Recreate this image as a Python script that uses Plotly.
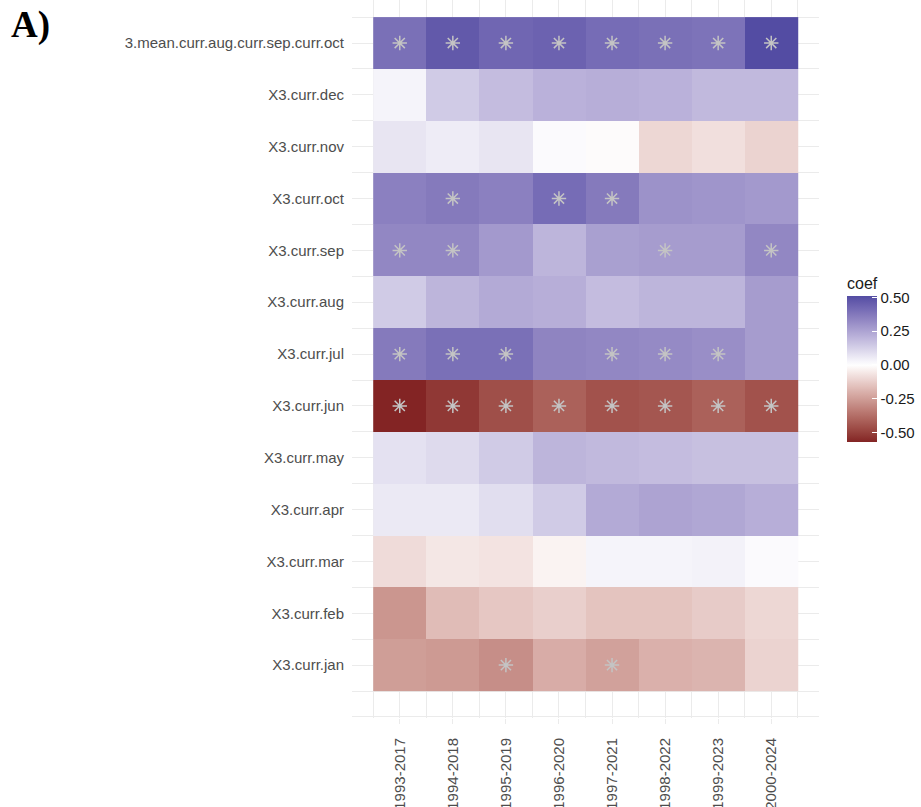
import plotly.graph_objects as go

# periods (x) and predictors (y, bottom to top)
periods = ["1993-2017", "1994-2018", "1995-2019", "1996-2020",
           "1997-2021", "1998-2022", "1999-2023", "2000-2024"]
variables = ["X3.curr.jan", "X3.curr.feb", "X3.curr.mar", "X3.curr.apr",
             "X3.curr.may", "X3.curr.jun", "X3.curr.jul", "X3.curr.aug",
             "X3.curr.sep", "X3.curr.oct", "X3.curr.nov", "X3.curr.dec",
             "X3.mean.curr.aug.curr.sep.curr.oct"]

# correlation coefficients per predictor (one value per period)
coef_jan = [-0.25, -0.26, -0.29, -0.21, -0.24, -0.20, -0.19, -0.11]
coef_feb = [-0.27, -0.17, -0.14, -0.12, -0.15, -0.15, -0.13, -0.10]
coef_mar = [-0.09, -0.06, -0.07, -0.03, 0.03, 0.03, 0.035, 0.01]
coef_apr = [0.06, 0.06, 0.09, 0.14, 0.23, 0.25, 0.24, 0.22]
coef_may = [0.08, 0.10, 0.14, 0.20, 0.19, 0.18, 0.17, 0.17]
coef_jun = [-0.57, -0.52, -0.46, -0.41, -0.45, -0.44, -0.41, -0.45]
coef_jul = [0.37, 0.40, 0.40, 0.34, 0.33, 0.32, 0.31, 0.27]
coef_aug = [0.14, 0.20, 0.23, 0.22, 0.18, 0.20, 0.20, 0.27]
coef_sep = [0.33, 0.33, 0.28, 0.20, 0.26, 0.27, 0.27, 0.33]
coef_oct = [0.35, 0.37, 0.35, 0.41, 0.37, 0.30, 0.29, 0.28]
coef_nov = [0.07, 0.05, 0.07, 0.01, -0.01, -0.10, -0.08, -0.11]
coef_dec = [0.03, 0.14, 0.18, 0.21, 0.22, 0.21, 0.19, 0.19]
coef_mean = [0.40, 0.47, 0.43, 0.44, 0.41, 0.40, 0.39, 0.51]

# significance flags (1 = significant)
sig_jan = [0, 0, 1, 0, 1, 0, 0, 0]
sig_feb = [0, 0, 0, 0, 0, 0, 0, 0]
sig_mar = [0, 0, 0, 0, 0, 0, 0, 0]
sig_apr = [0, 0, 0, 0, 0, 0, 0, 0]
sig_may = [0, 0, 0, 0, 0, 0, 0, 0]
sig_jun = [1, 1, 1, 1, 1, 1, 1, 1]
sig_jul = [1, 1, 1, 0, 1, 1, 1, 0]
sig_aug = [0, 0, 0, 0, 0, 0, 0, 0]
sig_sep = [1, 1, 0, 0, 0, 1, 0, 1]
sig_oct = [0, 1, 0, 1, 1, 0, 0, 0]
sig_nov = [0, 0, 0, 0, 0, 0, 0, 0]
sig_dec = [0, 0, 0, 0, 0, 0, 0, 0]
sig_mean = [1, 1, 1, 1, 1, 1, 1, 1]

coef = [coef_jan, coef_feb, coef_mar, coef_apr, coef_may, coef_jun, coef_jul,
        coef_aug, coef_sep, coef_oct, coef_nov, coef_dec, coef_mean]
sig = [sig_jan, sig_feb, sig_mar, sig_apr, sig_may, sig_jun, sig_jul,
       sig_aug, sig_sep, sig_oct, sig_nov, sig_dec, sig_mean]


# --- gradient2-like colour scale (Lab interpolation, mid = 0) ---
def to_lab(hexc):
    rgb = [int(hexc[i:i + 2], 16) / 255 for i in (1, 3, 5)]
    r, g, b = [c / 12.92 if c <= 0.04045 else ((c + 0.055) / 1.055) ** 2.4 for c in rgb]
    X = (0.4124 * r + 0.3576 * g + 0.1805 * b) / 0.95047
    Y = 0.2126 * r + 0.7152 * g + 0.0722 * b
    Z = (0.0193 * r + 0.1192 * g + 0.9505 * b) / 1.08883
    f = lambda t: t ** (1 / 3) if t > 0.008856 else 7.787 * t + 16 / 116
    fx, fy, fz = f(X), f(Y), f(Z)
    return (116 * fy - 16, 500 * (fx - fy), 200 * (fy - fz))


def from_lab(L, a, b):
    fy = (L + 16) / 116
    fx = fy + a / 500
    fz = fy - b / 200
    finv = lambda t: t ** 3 if t ** 3 > 0.008856 else (t - 16 / 116) / 7.787
    X, Y, Z = finv(fx) * 0.95047, finv(fy), finv(fz) * 1.08883
    r = 3.2406 * X - 1.5372 * Y - 0.4986 * Z
    g = -0.9689 * X + 1.8758 * Y + 0.0415 * Z
    bl = 0.0557 * X - 0.2040 * Y + 1.0570 * Z
    out = []
    for c in (r, g, bl):
        c = 12.92 * c if c <= 0.0031308 else 1.055 * c ** (1 / 2.4) - 0.055
        out.append(int(round(min(max(c, 0), 1) * 255)))
    return "rgb(%d,%d,%d)" % tuple(out)


low_lab, mid_lab, high_lab = to_lab("#832424"), to_lab("#FFFFFF"), to_lab("#3A3A98")
flat = [v for row in coef for v in row]
zmin, zmax = min(flat), max(flat)
ext = max(abs(zmin), abs(zmax))

colorscale = []
n = 40
for i in range(n + 1):
    v = zmin + (zmax - zmin) * i / n
    t = min(abs(v) / ext, 1)
    end = low_lab if v < 0 else high_lab
    lab = [m + (e - m) * t for m, e in zip(mid_lab, end)]
    colorscale.append([i / n, from_lab(*lab)])

fig = go.Figure()

fig.add_trace(go.Heatmap(
    x=list(range(len(periods))),
    y=list(range(len(variables))),
    z=coef,
    zmin=zmin, zmax=zmax,
    colorscale=colorscale,
    hoverinfo="skip",
    colorbar=dict(
        title=dict(text="coef", font=dict(size=16, color="#1a1a1a"), side="top"),
        x=1.06, xanchor="left", xpad=0,
        y=0.5014, yanchor="middle", ypad=0,
        thickness=30, len=168, lenmode="pixels",
        outlinewidth=0,
        tickvals=[-0.5, -0.25, 0, 0.25, 0.5],
        ticktext=["-0.50", "-0.25", "0.00", "0.25", "0.50"],
        ticks="inside", ticklen=5, tickcolor="white", tickwidth=1,
        tickfont=dict(size=15, color="#1a1a1a"),
    ),
))

sx, sy = [], []
for j, row in enumerate(sig):
    for i, s in enumerate(row):
        if s:
            sx.append(i)
            sy.append(j)

fig.add_trace(go.Scatter(
    x=sx, y=sy, mode="markers", hoverinfo="skip", showlegend=False,
    marker=dict(symbol="asterisk-open", size=12, color="#c4c4c4",
                line=dict(color="#c4c4c4", width=1.5)),
))

grid = "#ebebeb"
fig.update_layout(
    width=921, height=807,
    margin=dict(l=352, r=102, t=0, b=89, autoexpand=False),
    paper_bgcolor="white", plot_bgcolor="white",
    font=dict(family="Liberation Sans, Arial, sans-serif", color="#4d4d4d"),
    showlegend=False,
    xaxis=dict(
        range=[-0.9, 7.9], tickmode="array",
        tickvals=list(range(len(periods))), ticktext=periods,
        tickangle=-90, tickfont=dict(size=15, color="#4d4d4d"),
        ticks="outside", ticklen=5, tickcolor=grid, ticklabelstandoff=8,
        showgrid=True, gridcolor=grid, gridwidth=1, zeroline=False,
        minor=dict(tickvals=[i - 0.5 for i in range(len(periods) + 1)],
                   showgrid=True, gridcolor=grid, gridwidth=1, ticks=""),
    ),
    yaxis=dict(
        range=[-1.02, 12.83], tickmode="array",
        tickvals=list(range(len(variables))), ticktext=variables,
        tickfont=dict(size=15, color="#4d4d4d"), ticks="",
        ticklabelstandoff=7,
        showgrid=True, gridcolor=grid, gridwidth=1, zeroline=False,
        minor=dict(tickvals=[-1] + [i - 0.5 for i in range(len(variables) + 1)],
                   showgrid=True, gridcolor=grid, gridwidth=1, ticks=""),
    ),
    # the long top label is clipped on its left side in the original figure
    shapes=[dict(type="rect", xref="paper", yref="paper", layer="above",
                 x0=-352 / 467, x1=-(352 - 125) / 467, y0=0.9, y1=1.0,
                 fillcolor="white", line=dict(width=0))],
    annotations=[dict(text="<b>A)</b>", xref="paper", yref="paper",
                      x=-343 / 467, y=1 - 2 / 718, xanchor="left", yanchor="top",
                      showarrow=False,
                      font=dict(family="Liberation Serif, Times New Roman, serif",
                                size=37, color="black"))],
)

# page body has a default 8px margin; drop it so the figure sits at the corner
fig.write_html("out.html", config={"displayModeBar": False},
               post_script="document.body.style.margin='0px';")
